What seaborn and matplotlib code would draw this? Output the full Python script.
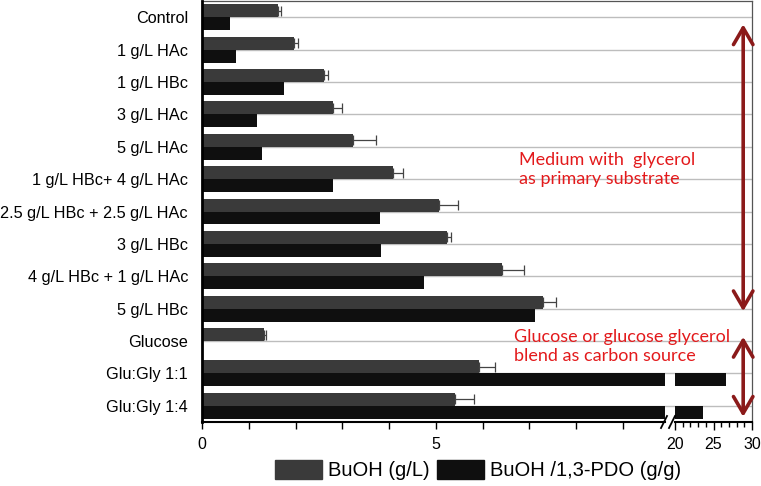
import numpy as np
import pandas as pd
import matplotlib
matplotlib.use("Agg")
import matplotlib.pyplot as plt
from matplotlib.patches import Patch
from matplotlib.lines import Line2D
import seaborn as sns

conditions = ["Control", "1 g/L HAc", "1 g/L HBc", "3 g/L HAc", "5 g/L HAc",
              "1 g/L HBc+ 4 g/L HAc", "2.5 g/L HBc + 2.5 g/L HAc", "3 g/L HBc",
              "4 g/L HBc + 1 g/L HAc", "5 g/L HBc", "Glucose", "Glu:Gly 1:1", "Glu:Gly 1:4"]
buoh = [1.63, 1.97, 2.61, 2.80, 3.22, 4.08, 5.07, 5.24, 6.42, 7.30, 1.33, 5.93, 5.41]
buoh_err = [0.05, 0.09, 0.09, 0.19, 0.49, 0.21, 0.40, 0.09, 0.47, 0.28, 0.04, 0.34, 0.40]
ratio = [0.60, 0.72, 1.76, 1.18, 1.29, 2.81, 3.80, 3.82, 4.75, 7.13, 0.0, 26.6, 23.6]
series = ["BuOH (g/L)", "BuOH /1,3-PDO (g/g)"]

df = pd.DataFrame({
    "condition": conditions * 2,
    "series": [series[0]] * len(conditions) + [series[1]] * len(conditions),
    "value": buoh + ratio,
})

gray = "#3a3a3a"
black = "#0f0f0f"
red = "#e31a1c"
darkred = "#8b1a1a"

W, H = 761, 486
fig = plt.figure(figsize=(W / 100, H / 100), dpi=100)
plt.rcParams["font.family"] = ["Liberation Sans", "DejaVu Sans"]

def box(x0, x1, y0=1, y1=422):
    return [x0 / W, 1 - y1 / H, (x1 - x0) / W, (y1 - y0) / H]

# background axes: gridlines, frame, annotations
bg = fig.add_axes(box(202, 752))
bg.set_xlim(0, 1)
bg.set_ylim(len(conditions) - 0.5, -0.5)
bg.set_yticks(range(len(conditions)))
bg.set_xticks([])
bg.tick_params(axis="y", length=0, labelleft=False)
bg.grid(axis="y", color="#bdbdbd", lw=1)
for s in ["left", "bottom"]:
    bg.spines[s].set_visible(False)
for s in ["top", "right"]:
    bg.spines[s].set_color("#555555")
    bg.spines[s].set_linewidth(0.9)

ax_l = fig.add_axes(box(202, 665))
ax_r = fig.add_axes(box(675, 752))

for ax in (ax_l, ax_r):
    sns.barplot(data=df, x="value", y="condition", hue="series", orient="h",
                palette=[gray, black], saturation=1, errorbar=None,
                legend=False, width=0.8, ax=ax)
    ax.set_facecolor("none")
    ax.set_ylim(len(conditions) - 0.5, -0.5)
    ax.set_xlabel("")
    ax.set_ylabel("")
    for s in ["top", "right", "left"]:
        ax.spines[s].set_visible(False)
    ax.spines["bottom"].set_linewidth(1.5)
    ax.spines["bottom"].set_color("black")
    # error bars on the BuOH bars
    bars = ax.containers[0]
    xs = np.array([b.get_width() for b in bars])
    ys = np.array([b.get_y() + b.get_height() / 2 for b in bars])
    ax.errorbar(xs, ys, xerr=[np.zeros(len(xs)), buoh_err], fmt="none",
                ecolor="#444444", elinewidth=0.9, capsize=3.5, capthick=0.9)

ax_l.set_xlim(0, 9.9)
ax_l.set_xticks(range(10))
ax_l.set_xticklabels(["0", "", "", "", "", "5", "", "", "", ""])
ax_l.tick_params(axis="x", length=5, width=1, pad=6, labelsize=11.5)
ax_l.spines["left"].set_visible(True)
ax_l.spines["left"].set_linewidth(2)
ax_l.spines["left"].set_color("black")
ax_l.tick_params(axis="y", length=0, pad=10, labelsize=11.7)

ax_r.set_xlim(20, 30)
ax_r.set_xticks([20, 25, 30])
ax_r.set_xticks(range(20, 31), minor=True)
ax_r.tick_params(axis="x", which="major", length=6, width=1, pad=5, labelsize=11.5)
ax_r.tick_params(axis="x", which="minor", length=3.5, width=1)
ax_r.set_yticks([])

# axis break marks
for x0 in (661, 669):
    fig.add_artist(Line2D([x0 / W, (x0 + 6) / W], [1 - 428 / H, 1 - 416 / H],
                          transform=fig.transFigure, color="black", lw=1.3))

# annotations
tr = ("axes fraction", "data")
arrow = dict(arrowstyle="<->, head_length=0.6, head_width=0.35", color=darkred,
             lw=2.6, mutation_scale=20, shrinkA=0, shrinkB=0)
bg.annotate("", xy=(0.984, 0.22), xytext=(0.984, 9.08), xycoords=tr, textcoords=tr,
            arrowprops=arrow)
bg.annotate("", xy=(0.984, 9.87), xytext=(0.984, 12.34), xycoords=tr, textcoords=tr,
            arrowprops=arrow)
bg.annotate("Medium with  glycerol\nas primary substrate", xy=(0.576, 4.70),
            xycoords=tr, ha="left", va="center", color=red, fontsize=13,
            family=["Lato", "DejaVu Sans"], linespacing=1.25)
bg.annotate("Glucose or glucose glycerol\nblend as carbon source", xy=(0.567, 10.16),
            xycoords=tr, ha="left", va="center", color=red, fontsize=13,
            family=["Lato", "DejaVu Sans"], linespacing=1.25)

handles = [Patch(facecolor=gray, edgecolor=gray), Patch(facecolor=black, edgecolor=black)]
fig.legend(handles, series, loc="center", bbox_to_anchor=(478 / W, 1 - 470 / H), ncol=2,
           frameon=False, fontsize=14.5, handlelength=2.3, handleheight=1.1,
           handletextpad=0.3, columnspacing=0.4, borderaxespad=0)

fig.savefig("out.png", dpi=100)
